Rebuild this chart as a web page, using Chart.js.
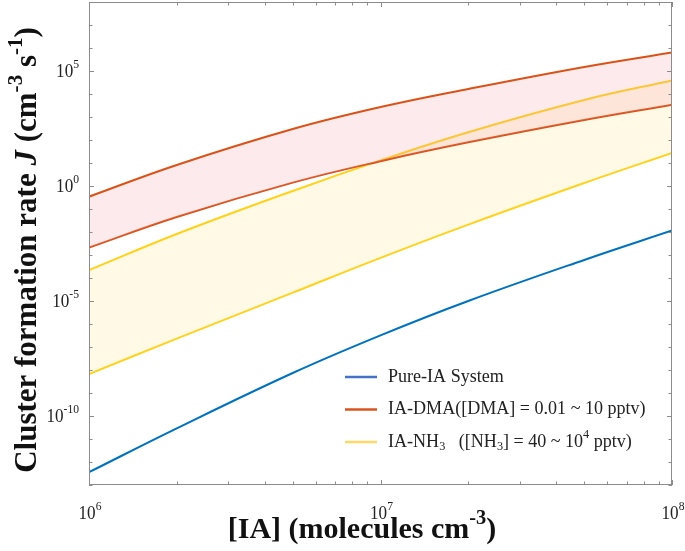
<!DOCTYPE html>
<html>
<head>
<meta charset="utf-8">
<script src="https://cdn.jsdelivr.net/npm/chart.js@4.4.1/dist/chart.umd.min.js"></script>
<style>
html,body{margin:0;padding:0;background:#fff;}
#wrap{width:685px;height:551px;position:relative;}
</style>
</head>
<body>
<div id="wrap"><canvas id="c" width="685" height="551"></canvas></div>
<script>
// ---- data ----
const iaConc   = [1e6, 2e6, 5e6, 1e7, 2e7, 5e7, 1e8];
const pureIA   = [3.6e-13, 2.9e-11, 7.4e-9, 3.2e-7, 1.0e-5, 6.1e-4, 1.16e-2];
const dmaHigh  = [0.343, 8.2, 300, 2.7e3, 1.65e4, 1.5e5, 6.4e5];
const dmaLow   = [2.1e-3, 4.5e-2, 1.4, 12, 79, 740, 3.4e3];
const nh3High  = [2.2e-4, 8.2e-3, 0.61, 13, 219, 5.5e3, 3.9e4];
const nh3Low   = [6.7e-9, 2.3e-7, 2.3e-5, 7.5e-4, 2.1e-2, 1.35, 27.5];
const yTickExps = [-10, -5, 0, 5];
const xTickExps = [6, 7, 8];
const legendItems = [
  {color:'#4472C4', parts:[['Pure-IA System','n']]},
  {color:'#D9541E', parts:[['IA-DMA([DMA] = 0.01 ~ 10 pptv)','n']]},
  {color:'#FFD966', parts:[['IA-NH','n'],['3','sub'],['   ([NH','n'],['3','sub'],['] = 40 ~ 10','n'],['4','sup'],[' pptv)','n']]}
];

const pts = ys => iaConc.map((x,i)=>({x:x, y:ys[i]}));
const SERIF = '"Liberation Serif", "Times New Roman", serif';

function drawRich(ctx, parts, x, y, size, bold, align, sx){
  sx = sx || 1;
  const fontFor = p => {
    const italic = p[1]==='it';
    const s = (p[1]==='sup'||p[1]==='sub') ? size*0.68 : size;
    return (italic?'italic ':'') + (bold?'bold ':'') + s + 'px ' + SERIF;
  };
  const w = parts.map(p=>{ ctx.font = fontFor(p); return ctx.measureText(p[0]).width; });
  const total = w.reduce((a,b)=>a+b,0);
  ctx.save();
  ctx.translate(x, y);
  ctx.scale(sx, 1);
  let cx = align==='center' ? -total/2 : align==='right' ? -total : 0;
  ctx.textBaseline = 'middle';
  ctx.textAlign = 'left';
  parts.forEach((p,i)=>{
    ctx.font = fontFor(p);
    let dy = 0;
    if (p[1]==='sup') dy = -size*0.38;
    if (p[1]==='sub') dy = size*0.25;
    ctx.fillText(p[0], cx, dy);
    cx += w[i];
  });
  ctx.restore();
  return total*sx;
}

const decor = {
  id:'decor',
  afterDraw(chart){
    const ctx = chart.ctx, a = chart.chartArea;
    const xs = chart.scales.x, ys = chart.scales.y;
    ctx.save();
    // box
    ctx.strokeStyle = '#8c8c8c';
    ctx.lineWidth = 1;
    ctx.strokeRect(a.left+0.5, a.top+0.5, a.right-a.left-1, a.bottom-a.top-1);
    // y ticks at every decade
    ctx.beginPath();
    for (let e=-13; e<=8; e++){
      const py = Math.round(ys.getPixelForValue(Math.pow(10,e)))+0.5;
      const len = (e%5===0) ? 5 : 3.5;
      ctx.moveTo(a.left, py); ctx.lineTo(a.left+len, py);
      ctx.moveTo(a.right, py); ctx.lineTo(a.right-len, py);
    }
    // x ticks
    for (let e=6; e<=8; e++){
      for (let m=1; m<=9; m++){
        const v = m*Math.pow(10,e);
        if (v>1e8) break;
        const px = Math.round(xs.getPixelForValue(v))+0.5;
        const len = m===1 ? 5 : 3.5;
        ctx.moveTo(px, a.bottom); ctx.lineTo(px, a.bottom-len);
        ctx.moveTo(px, a.top); ctx.lineTo(px, a.top+len);
      }
    }
    ctx.stroke();
    // tick labels
    ctx.fillStyle = '#222';
    yTickExps.forEach(e=>{
      const py = ys.getPixelForValue(Math.pow(10,e));
      drawRich(ctx, [['10','n'],[String(e),'sup']], a.left-10, py+1, 19, false, 'right', 0.9);
    });
    xTickExps.forEach(e=>{
      const px = xs.getPixelForValue(Math.pow(10,e));
      drawRich(ctx, [['10','n'],[String(e),'sup']], px+1, a.bottom+29, 19, false, 'center', 0.9);
    });
    // axis titles
    ctx.fillStyle = '#111';
    drawRich(ctx, [['[IA] (molecules cm','n'],['-3','sup'],[')','n']], 362, 530, 30, true, 'center');
    ctx.save();
    ctx.translate(28, 250);
    ctx.rotate(-Math.PI/2);
    drawRich(ctx, [['Cluster formation rate ','n'],['J','it'],[' (cm','n'],['-3','sup'],[' s','n'],['-1','sup'],[')','n']], 0, 0, 31, true, 'center');
    ctx.restore();
    // legend
    const lx = 345, ly0 = 377, dy = 32.5;
    legendItems.forEach((it,i)=>{
      const y = ly0 + i*dy;
      ctx.strokeStyle = it.color;
      ctx.lineWidth = 2.5;
      ctx.beginPath(); ctx.moveTo(lx, y); ctx.lineTo(lx+32, y); ctx.stroke();
      ctx.fillStyle = '#222';
      drawRich(ctx, it.parts, lx+43, y, 19, false, 'left', 0.95);
    });
    ctx.restore();
  }
};

new Chart(document.getElementById('c'), {
  type:'line',
  data:{
    datasets:[
      {label:'Pure-IA System', data:pts(pureIA), borderColor:'#0072BD', borderWidth:2, fill:false},
      {label:'IA-DMA 10 pptv', data:pts(dmaHigh), borderColor:'#D95319', borderWidth:2, fill:'+1', backgroundColor:'rgba(245,150,165,0.2)'},
      {label:'IA-DMA 0.01 pptv', data:pts(dmaLow), borderColor:'#D95319', borderWidth:2, fill:false},
      {label:'IA-NH3 1e4 pptv', data:pts(nh3High), borderColor:'#FFD21A', borderWidth:2, fill:'+1', backgroundColor:'rgba(255,215,100,0.16)'},
      {label:'IA-NH3 40 pptv', data:pts(nh3Low), borderColor:'#FFD21A', borderWidth:2, fill:false}
    ]
  },
  options:{
    responsive:false,
    animation:false,
    devicePixelRatio:1,
    layout:{padding:{left:89, top:2, right:13, bottom:66}},
    elements:{point:{radius:0}, line:{tension:0.4}},
    plugins:{legend:{display:false}, tooltip:{enabled:false}},
    scales:{
      x:{type:'logarithmic', min:1e6, max:1e8, display:true,
         grid:{display:false, drawTicks:false}, border:{display:false},
         ticks:{display:false}, afterFit(s){s.height=0;}},
      y:{type:'logarithmic', min:1e-13, max:1e8, display:true,
         grid:{display:false, drawTicks:false}, border:{display:false},
         ticks:{display:false}, afterFit(s){s.width=0;}}
    }
  },
  plugins:[decor]
});
</script>
</body>
</html>
